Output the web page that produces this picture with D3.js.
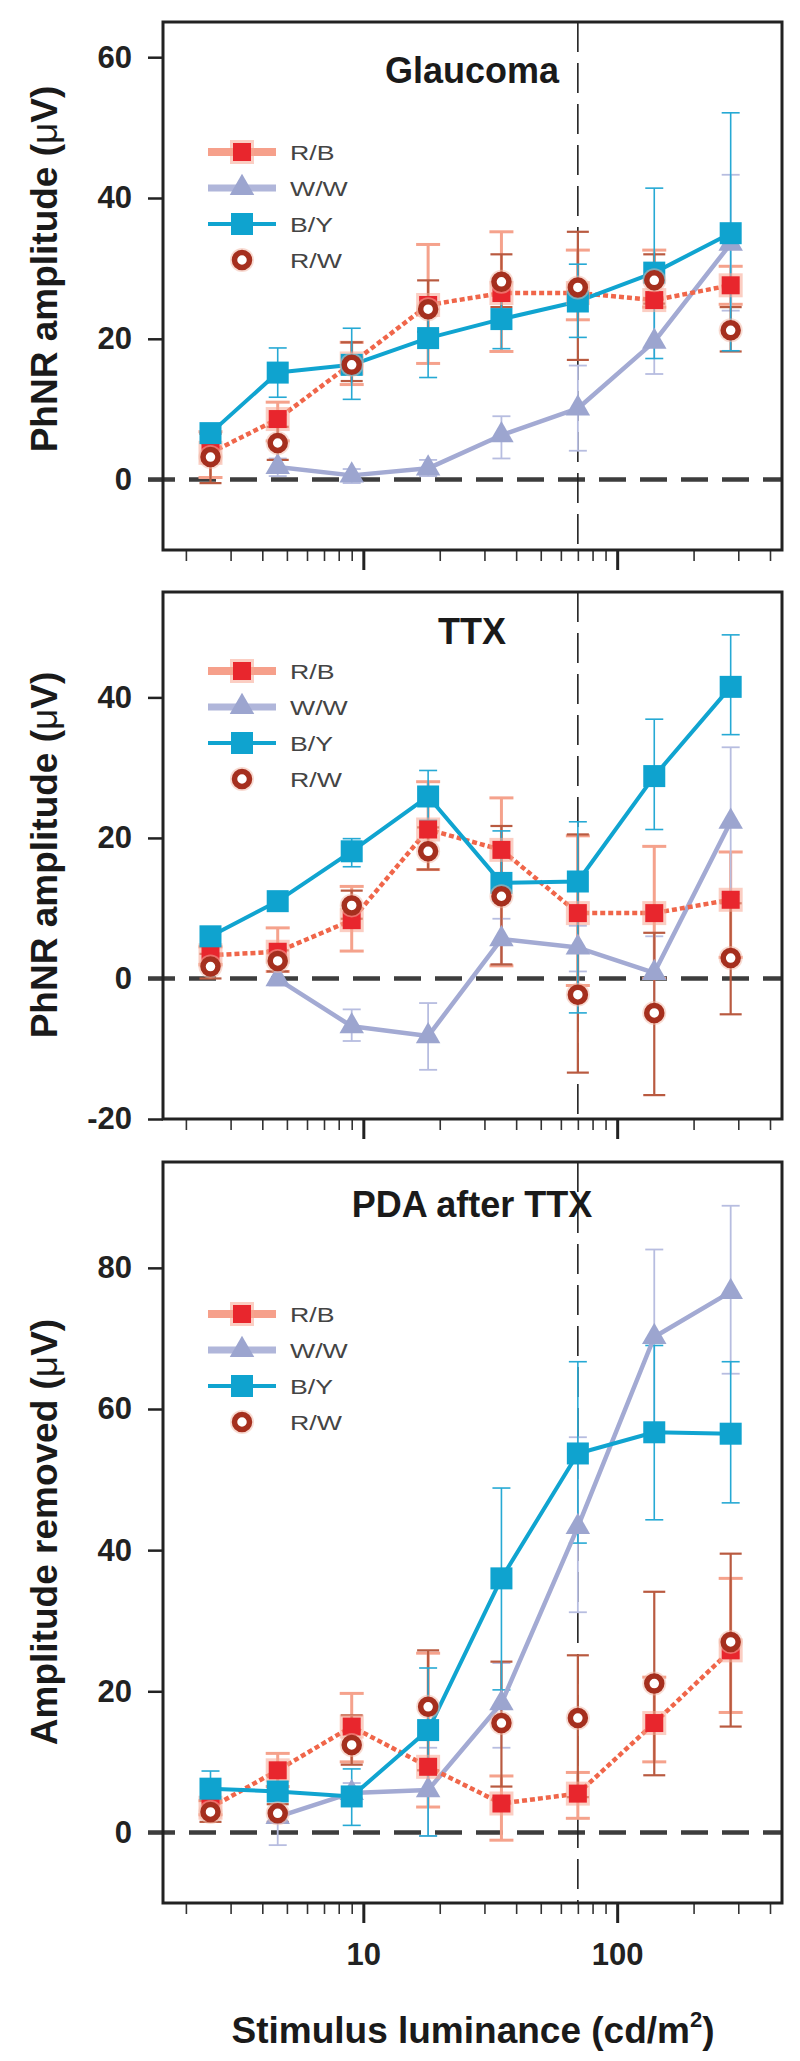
<!DOCTYPE html>
<html>
<head>
<meta charset="utf-8">
<script src="https://cdn.jsdelivr.net/npm/d3@7"></script>
<style>
  body { margin: 0; background: #fff; }
  svg { display: block; font-family: "Liberation Sans", Arial, sans-serif; }
</style>
</head>
<body>
<div id="chart"></div>
<script>
// stimulus luminance (cd/m2) for every point
const xVals = [2.5, 4.6, 9, 18, 35, 70, 140, 280];
const minorTicks = [2, 3, 4, 5, 6, 7, 8, 9, 20, 30, 40, 50, 60, 70, 80, 90, 200, 300, 400];
const majorTicks = [10, 100];
const seriesNames = ["R/B", "W/W", "B/Y", "R/W"];

// Glaucoma
const glauRB = [3.8, 8.6, 16.5, 24.8, 26.5, 26.5, 25.5, 27.6];
const glauRBErr = [[0.3, 6.8], [5.5, 11], [13.5, 19.5], [16.5, 33.4], [18.2, 35.2], [22.7, 32.6], [24.5, 32.6], [24.9, 30.3]];
const glauWW = [null, 1.8, 0.6, 1.6, 6.3, 10.1, 19.6, 33.5];
const glauWWErr = [null, [0.5, 3], [-0.5, 1.5], [0.5, 2.8], [3.0, 9.0], [4.1, 16.2], [15.0, 24.5], [24, 43.3]];
const glauBY = [6.6, 15.2, 16.3, 20.1, 22.8, 25.3, 29.4, 35.0];
const glauBYErr = [[5, 7.5], [11.7, 18.7], [11.4, 21.5], [14.5, 25.5], [18.6, 27], [20.2, 30.6], [17.2, 41.4], [18.3, 52.1]];
const glauRW = [3.2, 5.2, 16.3, 24.2, 28.1, 27.3, 28.3, 21.2];
const glauRWErr = [[-0.5, 6.5], [2.8, 7.5], [14, 19.5], [21, 28.3], [24.5, 32], [17, 35.2], [25, 32], [18.2, 24.5]];

// TTX
const ttxRB = [3.3, 3.8, 8.3, 21.2, 18.3, 9.3, 9.3, 11.2];
const ttxRBErr = [[2, 4.5], [1, 7.2], [3.9, 13.1], [15.5, 28], [1.8, 25.7], [-1, 20.3], [0, 18.8], [3, 18]];
const ttxWW = [null, -0.1, -6.8, -8.2, 5.6, 4.4, 0.8, 22.3];
const ttxWWErr = [null, [-1, 1], [-8.9, -4.4], [-13, -3.5], [2, 8.5], [1, 7.5], [-5, 6], [12, 32.9]];
const ttxBY = [6.0, 11.0, 18.1, 25.9, 13.6, 13.8, 28.8, 41.5];
const ttxBYErr = [[5, 7], [10, 12], [15.9, 19.9], [22.5, 29.6], [11, 21], [-4.9, 22.3], [21.2, 36.9], [34.7, 48.9]];
const ttxRW = [1.7, 2.5, 10.4, 18.1, 11.7, -2.3, -4.9, 2.9];
const ttxRWErr = [[0, 3.5], [1, 4], [8.5, 12.5], [15.5, 21.5], [2.0, 21.7], [-13.4, 20.5], [-16.6, 6.5], [-5.1, 10.7]];

// PDA after TTX
const pdaRB = [3.5, 8.8, 15.0, 9.3, 4.1, 5.5, 15.5, 25.8];
const pdaRBErr = [[2.5, 4.5], [6.5, 11.2], [10, 19.7], [3.6, 25.4], [-1.1, 8], [2, 8.5], [10, 22], [17, 36]];
const pdaWW = [null, 2.2, 5.6, 6.0, 18.3, 43.3, 70.2, 76.6];
const pdaWWErr = [null, [-1.8, 4], [4, 7], [-0.5, 12], [12, 24], [31.2, 56], [57, 82.6], [65, 88.8]];
const pdaBY = [6.2, 5.8, 5.1, 14.5, 36.0, 53.7, 56.7, 56.5];
const pdaBYErr = [[5, 8.7], [4.5, 7], [1.0, 9], [-0.5, 23.3], [20.2, 48.8], [41, 66.7], [44.3, 69], [46.7, 66.7]];
const pdaRW = [2.9, 2.7, 12.4, 17.8, 15.5, 16.2, 21.1, 27.0];
const pdaRWErr = [[1.5, 4.5], [1.5, 4], [9.6, 16.6], [8.8, 25.8], [6.5, 24.2], [5, 25.1], [8.1, 34.1], [15, 39.5]];

// panel layout (built from the arrays above)
const panels = [
  { title: "Glaucoma", yTitle: "PhNR amplitude", domain: [-10, 65], ticks: [0, 20, 40, 60],
    top: 22, bottom: 550, titleY: 83, yTitleY: 269, legendY: 152,
    vals: [glauRB, glauWW, glauBY, glauRW], errs: [glauRBErr, glauWWErr, glauBYErr, glauRWErr] },
  { title: "TTX", yTitle: "PhNR amplitude", domain: [-20, 55], ticks: [-20, 0, 20, 40],
    top: 592, bottom: 1119, titleY: 644, yTitleY: 855, legendY: 671,
    vals: [ttxRB, ttxWW, ttxBY, ttxRW], errs: [ttxRBErr, ttxWWErr, ttxBYErr, ttxRWErr] },
  { title: "PDA after TTX", yTitle: "Amplitude removed", domain: [-10, 95], ticks: [0, 20, 40, 60, 80],
    top: 1162, bottom: 1903, titleY: 1217, yTitleY: 1532, legendY: 1314,
    vals: [pdaRB, pdaWW, pdaBY, pdaRW], errs: [pdaRBErr, pdaWWErr, pdaBYErr, pdaRWErr] }
];

// look of each series: R/B, W/W, B/Y, R/W
const styles = [
  { line: "#f0664a", lw: 4.5, dash: "5 3", err: "#f5a28c", ew: 3, cap: 12, legLw: 8, legLine: "#f6a08b" },
  { line: "#a3aad3", lw: 4.5, dash: null, err: "#b7bde0", ew: 1.8, cap: 9, legLw: 7, legLine: "#b0b6da" },
  { line: "#10a4d0", lw: 4, dash: null, err: "#26a9d4", ew: 1.6, cap: 9, legLw: 4, legLine: "#10a4d0" },
  { line: null, lw: 0, dash: null, err: "#b95a40", ew: 2.2, cap: 11, legLw: 0, legLine: null }
];

const W = 800, H = 2061;
const svg = d3.select("#chart").append("svg").attr("width", W).attr("height", H);
svg.append("rect").attr("width", W).attr("height", H).attr("fill", "#fff");

const x = d3.scaleLog().domain([1.625, 446]).range([163, 782]);
const x0 = x.range()[0], x1 = x.range()[1];
const tickFont = "'Liberation Sans', Arial, sans-serif";

function drawMarker(sel, s) {
  if (s === 0) {
    sel.append("rect").attr("x", -12).attr("y", -12).attr("width", 24).attr("height", 24)
      .attr("fill", "#f7a592").attr("opacity", 0.55);
    sel.append("rect").attr("x", -9).attr("y", -9).attr("width", 18).attr("height", 18).attr("fill", "#e8262d");
  } else if (s === 1) {
    sel.append("path").attr("d", d3.symbol(d3.symbolTriangle, 260)()).attr("fill", "#9ca5cf");
  } else if (s === 2) {
    sel.append("rect").attr("x", -11).attr("y", -11).attr("width", 22).attr("height", 22).attr("fill", "#0fa3cf");
  } else {
    sel.append("circle").attr("r", 12).attr("fill", "#f2b7a6").attr("opacity", 0.5);
    sel.append("circle").attr("r", 7.5).attr("fill", "#fff").attr("stroke", "#a52f1e").attr("stroke-width", 5.5);
  }
}

panels.forEach((p, pi) => {
  const y = d3.scaleLinear().domain(p.domain).range([p.bottom, p.top]);
  const g = svg.append("g");

  // y axis
  const ya = g.append("g").attr("transform", `translate(${x0},0)`)
    .call(d3.axisLeft(y).tickValues(p.ticks).tickSize(15).tickPadding(16).tickFormat(d => String(d)));
  ya.select(".domain").remove();
  ya.selectAll("line").attr("stroke", "#222").attr("stroke-width", 2.5);
  ya.selectAll("text").attr("font-size", 31).attr("font-weight", "bold").attr("fill", "#222")
    .attr("font-family", tickFont);

  // x axis ticks (labels only on the bottom panel)
  const last = pi === panels.length - 1;
  const xm = g.append("g").attr("transform", `translate(0,${p.bottom})`)
    .call(d3.axisBottom(x).tickValues(minorTicks).tickSize(11).tickFormat(""));
  xm.select(".domain").remove();
  xm.selectAll("line").attr("stroke", "#333").attr("stroke-width", 1.6);
  const xM = g.append("g").attr("transform", `translate(0,${p.bottom})`)
    .call(d3.axisBottom(x).tickValues(majorTicks).tickSize(20).tickPadding(20)
      .tickFormat(last ? d => String(d) : ""));
  xM.select(".domain").remove();
  xM.selectAll("line").attr("stroke", "#222").attr("stroke-width", 3);
  xM.selectAll("text").attr("font-size", 31).attr("font-weight", "bold").attr("fill", "#222")
    .attr("font-family", tickFont);

  // zero reference line
  g.append("line").attr("x1", x0 - 15).attr("x2", x1).attr("y1", y(0)).attr("y2", y(0))
    .attr("stroke", "#3d3d3d").attr("stroke-width", 4.5).attr("stroke-dasharray", "27 14");

  // vertical reference line at 70 cd/m2
  g.append("line").attr("x1", x(70)).attr("x2", x(70)).attr("y1", p.top).attr("y2", p.bottom)
    .attr("stroke", "#222").attr("stroke-width", 1.6).attr("stroke-dasharray", "30 11");

  // error bars
  [0, 1, 3, 2].forEach(s => {
    const st = styles[s];
    const eb = g.append("g").attr("stroke", st.err).attr("stroke-width", st.ew).attr("fill", "none");
    p.errs[s].forEach((e, i) => {
      if (!e) return;
      const cx = x(xVals[i]);
      eb.append("line").attr("x1", cx).attr("x2", cx).attr("y1", y(e[0])).attr("y2", y(e[1]));
      e.forEach(v => eb.append("line").attr("x1", cx - st.cap).attr("x2", cx + st.cap)
        .attr("y1", y(v)).attr("y2", y(v)));
    });
  });

  // connecting lines
  [1, 0, 2].forEach(s => {
    const st = styles[s];
    const pts = p.vals[s].map((v, i) => [xVals[i], v]);
    g.append("path")
      .attr("d", d3.line().defined(d => d[1] !== null).x(d => x(d[0])).y(d => y(d[1]))(pts))
      .attr("fill", "none").attr("stroke", st.line).attr("stroke-width", st.lw)
      .attr("stroke-dasharray", st.dash).attr("stroke-linejoin", "round");
  });

  // markers
  [1, 0, 2, 3].forEach(s => {
    p.vals[s].forEach((v, i) => {
      if (v === null) return;
      drawMarker(g.append("g").attr("transform", `translate(${x(xVals[i])},${y(v)})`), s);
    });
  });

  // frame
  g.append("rect").attr("x", x0).attr("y", p.top).attr("width", x1 - x0).attr("height", p.bottom - p.top)
    .attr("fill", "none").attr("stroke", "#222").attr("stroke-width", 3);

  // panel title
  g.append("text").attr("x", 472).attr("y", p.titleY).attr("text-anchor", "middle")
    .attr("font-size", 36).attr("font-weight", "bold").attr("fill", "#1a1a1a").text(p.title);

  // y title
  const yt = g.append("text").attr("transform", `translate(57,${p.yTitleY}) rotate(-90)`)
    .attr("text-anchor", "middle").attr("font-size", 37).attr("font-weight", "bold").attr("fill", "#1a1a1a");
  yt.append("tspan").text(p.yTitle + " (");
  yt.append("tspan").attr("font-weight", "normal").text("μ");
  yt.append("tspan").text("V)");

  // legend
  const leg = g.append("g");
  seriesNames.forEach((name, s) => {
    const st = styles[s];
    const ly = p.legendY + s * 36;
    if (st.legLine) {
      leg.append("line").attr("x1", 208).attr("x2", 276).attr("y1", ly).attr("y2", ly)
        .attr("stroke", st.legLine).attr("stroke-width", st.legLw);
    }
    drawMarker(leg.append("g").attr("transform", `translate(242,${ly})`), s);
    leg.append("text").attr("transform", `translate(290,${ly + 8}) scale(1.27,1)`)
      .attr("font-size", 21).attr("fill", "#444").text(name);
  });
});

// x title
const xt = svg.append("text").attr("x", 473).attr("y", 2043).attr("text-anchor", "middle")
  .attr("font-size", 37).attr("font-weight", "bold").attr("fill", "#1a1a1a");
xt.append("tspan").text("Stimulus luminance (cd/m");
xt.append("tspan").attr("font-size", 22).attr("dy", -16).text("2");
xt.append("tspan").attr("dy", 16).text(")");
</script>
</body>
</html>
